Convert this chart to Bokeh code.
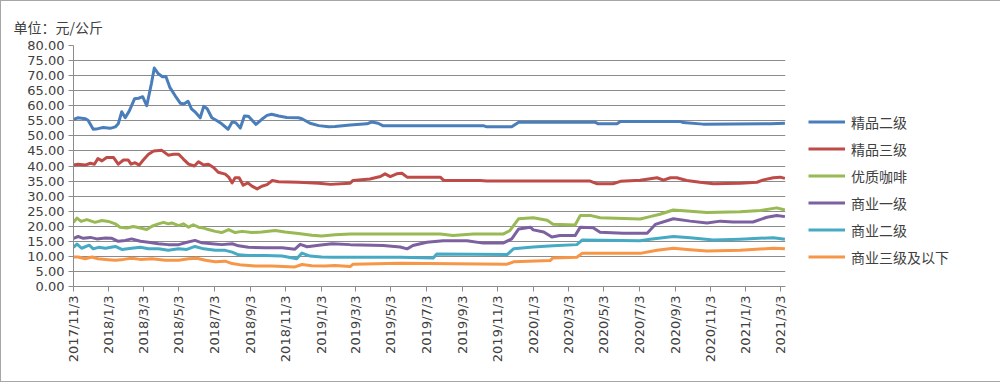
import pandas as pd
from bokeh.plotting import figure
from bokeh.models import Legend, LegendItem, FixedTicker, NumeralTickFormatter, Range1d
from bokeh.embed import file_html
from bokeh.resources import INLINE

start_date = "2017-11-03"
end_date = "2021-03-12"

series_names = ["精品二级", "精品三级", "优质咖啡", "商业一级", "商业二级", "商业三级及以下"]
series_colors = ["#4a7ebb", "#be4b48", "#98b954", "#7d60a0", "#46aac5", "#f79646"]

tick_labels = ["2017/11/3", "2018/1/3", "2018/3/3", "2018/5/3", "2018/7/3", "2018/9/3",
               "2018/11/3", "2019/1/3", "2019/3/3", "2019/5/3", "2019/7/3", "2019/9/3",
               "2019/11/3", "2020/1/3", "2020/3/3", "2020/5/3", "2020/7/3", "2020/9/3",
               "2020/11/3", "2021/1/3", "2021/3/3"]

# day offsets from start_date, and prices (元/公斤)
jp2_days = [0, 8, 20, 25, 34, 42, 51, 63, 72, 77, 83, 89, 96, 105, 112, 119, 126, 134, 139, 146,
            153, 159, 166, 175, 184, 190, 197, 203, 209, 218, 224, 230, 238, 247, 255, 266, 273, 279, 287, 294,
            301, 314, 324, 333, 341, 353, 367, 387, 393, 407, 422, 439, 450, 476, 505, 513, 524, 532, 705, 711,
            754, 766, 898, 903, 935, 941, 1044, 1049, 1083, 1200, 1224]
jp2_vals = [55.5, 56.0, 55.7, 55.2, 52.2, 52.4, 52.8, 52.5, 53.0, 54.0, 58.0, 56.0, 58.3, 62.3, 62.5, 63.0, 60.0, 67.3, 72.5, 70.6,
            69.6, 69.7, 66.0, 63.3, 60.8, 60.6, 61.5, 59.0, 58.0, 56.0, 59.8, 59.0, 56.0, 55.0, 54.0, 52.2, 54.6, 54.4, 52.6, 56.6,
            56.5, 53.8, 55.5, 56.8, 57.2, 56.6, 56.1, 56.0, 55.7, 54.2, 53.4, 53.0, 53.1, 53.6, 54.0, 54.6, 54.2, 53.4, 53.4, 53.0,
            53.0, 54.5, 54.5, 54.0, 54.0, 54.8, 54.8, 54.4, 53.9, 54.0, 54.2]

jp3_days = [0, 8, 20, 29, 36, 42, 49, 57, 69, 77, 86, 94, 99, 106, 113, 120, 129, 138, 152, 163,
            172, 181, 189, 198, 208, 215, 224, 232, 241, 249, 261, 267, 273, 278, 285, 292, 300, 307, 316, 324,
            333, 342, 353, 387, 422, 442, 476, 481, 510, 528, 536, 545, 556, 565, 574, 631, 637, 700, 711, 889,
            901, 928, 941, 975, 1004, 1015, 1027, 1038, 1055, 1078, 1101, 1147, 1176, 1187, 1204, 1216, 1224]
jp3_vals = [40.3, 40.6, 40.3, 40.9, 40.6, 42.5, 41.7, 42.8, 42.8, 40.6, 42.0, 42.0, 40.6, 41.1, 40.3, 42.0, 43.9, 45.0, 45.2, 43.6,
            43.9, 43.9, 42.3, 40.6, 40.0, 41.4, 40.3, 40.6, 39.5, 37.9, 37.3, 36.3, 34.4, 36.1, 36.1, 33.6, 34.4, 33.3, 32.4, 33.3,
            33.8, 35.2, 34.8, 34.6, 34.3, 33.9, 34.3, 35.2, 35.7, 36.5, 37.4, 36.5, 37.4, 37.6, 36.3, 36.3, 35.2, 35.2, 35.0, 35.0,
            34.1, 34.1, 34.9, 35.3, 36.1, 35.3, 36.1, 36.1, 35.2, 34.6, 34.1, 34.3, 34.6, 35.4, 36.1, 36.3, 35.9]

yz_days = [0, 6, 13, 23, 37, 49, 60, 72, 80, 92, 103, 115, 126, 135, 146, 155, 163, 169, 181, 189,
           198, 206, 215, 224, 232, 244, 255, 267, 278, 290, 307, 324, 347, 364, 387, 410, 427, 450, 476, 562,
           631, 653, 688, 739, 751, 766, 791, 815, 825, 863, 872, 889, 906, 975, 992, 1009, 1032, 1061, 1090, 1147,
           1182, 1210, 1224]
yz_vals = [21.3, 22.7, 21.6, 22.2, 21.3, 21.9, 21.6, 20.8, 19.7, 19.4, 19.9, 19.4, 18.9, 20.0, 20.8, 21.3, 20.8, 21.1, 20.2, 20.8,
           19.7, 20.5, 19.7, 19.4, 18.9, 18.3, 17.9, 18.9, 17.9, 18.3, 17.9, 18.1, 18.6, 18.1, 17.6, 17.0, 16.8, 17.2, 17.4, 17.4,
           17.4, 16.9, 17.4, 17.4, 18.6, 22.5, 22.8, 22.0, 20.7, 20.4, 23.6, 23.6, 22.8, 22.4, 23.2, 24.0, 25.4, 25.0, 24.6, 24.8,
           25.2, 26.1, 25.4]

sy1_days = [0, 8, 17, 29, 40, 55, 66, 77, 89, 100, 115, 129, 146, 163, 181, 192, 209, 221, 238, 255,
            273, 284, 301, 330, 359, 381, 390, 402, 422, 445, 476, 533, 562, 574, 584, 608, 636, 677, 705, 739,
            754, 766, 786, 791, 809, 823, 837, 863, 872, 894, 906, 946, 987, 1001, 1032, 1061, 1090, 1113, 1135, 1169,
            1193, 1210, 1224]
sy1_vals = [16.0, 16.6, 16.0, 16.3, 15.8, 16.1, 16.0, 15.0, 15.3, 15.8, 15.0, 14.7, 14.2, 13.9, 13.9, 14.5, 15.3, 14.5, 14.2, 13.9,
            14.2, 13.5, 13.0, 12.9, 12.9, 12.4, 14.0, 13.2, 13.7, 14.2, 13.9, 13.6, 13.1, 12.5, 13.6, 14.7, 15.2, 15.2, 14.4, 14.4,
            15.8, 19.1, 19.7, 18.8, 18.1, 16.4, 16.9, 16.9, 19.7, 19.5, 18.0, 17.7, 17.7, 20.6, 22.5, 21.7, 21.1, 21.7, 21.4, 21.4,
            23.0, 23.6, 23.2]

sy2_days = [0, 6, 14, 27, 34, 43, 55, 72, 83, 100, 115, 129, 146, 163, 181, 195, 209, 224, 244, 261,
            273, 284, 301, 330, 359, 384, 393, 407, 427, 447, 562, 619, 625, 746, 757, 791, 825, 866, 875, 975,
            992, 1032, 1061, 1101, 1147, 1204, 1224]
sy2_vals = [13.0, 14.1, 12.7, 13.7, 12.5, 13.0, 12.7, 13.3, 12.3, 12.7, 13.0, 12.5, 12.5, 12.0, 12.5, 12.3, 13.3, 12.5, 12.0, 12.0,
            11.4, 10.5, 10.3, 10.3, 10.1, 9.2, 11.1, 10.1, 9.8, 9.7, 9.7, 9.5, 10.8, 10.6, 12.5, 13.1, 13.5, 13.9, 15.4, 15.2,
            15.7, 16.6, 16.2, 15.4, 15.7, 16.2, 15.7]

sy3_days = [0, 8, 20, 32, 42, 60, 72, 86, 100, 115, 135, 158, 181, 198, 212, 227, 244, 261, 273, 290,
            313, 341, 381, 393, 410, 433, 450, 476, 481, 562, 746, 757, 820, 825, 866, 875, 975, 1004, 1032, 1061,
            1090, 1147, 1204, 1224]
sy3_vals = [9.8, 9.8, 9.2, 9.8, 9.2, 8.9, 8.7, 9.0, 9.4, 9.0, 9.2, 8.7, 8.7, 9.2, 9.4, 8.7, 8.2, 8.4, 7.6, 7.1,
            6.8, 6.8, 6.5, 7.3, 6.9, 6.8, 7.0, 6.6, 7.4, 7.7, 7.4, 8.2, 8.6, 9.5, 9.7, 11.0, 11.0, 12.0, 12.7, 12.2,
            11.8, 12.0, 12.7, 12.5]

all_days = [jp2_days, jp3_days, yz_days, sy1_days, sy2_days, sy3_days]
all_vals = [jp2_vals, jp3_vals, yz_vals, sy1_vals, sy2_vals, sy3_vals]

t0 = pd.Timestamp(start_date)


def ms(ts):
    return int(pd.Timestamp(ts).value // 1_000_000)


tick_ms = [ms(pd.to_datetime(t, format="%Y/%m/%d")) for t in tick_labels]

FONT = "DejaVu Sans"
CJK = "Noto Sans CJK SC"
TXT = "#404040"
GRAY = "#8c8c8c"

p = figure(frame_width=712, frame_height=241, x_axis_type="datetime", output_backend="svg", toolbar_location=None,
           x_range=Range1d(ms(start_date), ms(end_date)), y_range=Range1d(0, 80),
           min_border_left=72, min_border_right=214, min_border_top=44, min_border_bottom=95,
           title="单位：元/公斤", styles={"border": "1px solid #a6a6a6"})

p.title.align = "left"
p.title.offset = -60
p.title.standoff = 17
p.title.text_font = CJK
p.title.text_font_size = "14px"
p.title.text_font_style = "normal"
p.title.text_color = TXT

p.outline_line_color = None
p.xgrid.grid_line_color = None
p.ygrid.grid_line_color = GRAY
p.ygrid.grid_line_width = 1

p.yaxis.ticker = FixedTicker(ticks=list(range(0, 81, 5)))
p.yaxis.formatter = NumeralTickFormatter(format="0.00")
p.xaxis.ticker = FixedTicker(ticks=tick_ms)
p.xaxis.major_label_overrides = dict(zip(tick_ms, tick_labels))
p.xaxis.major_label_orientation = 3.14159265 / 2

for ax in (p.xaxis, p.yaxis):
    ax.axis_line_color = GRAY
    ax.major_tick_line_color = GRAY
    ax.major_tick_out = 5
    ax.major_tick_in = 0
    ax.minor_tick_line_color = None
    ax.major_label_text_font = FONT
    ax.major_label_text_font_size = "13px"
    ax.major_label_text_color = TXT
    ax.major_label_standoff = 4

items = []
for name, color, days, vals in zip(series_names, series_colors, all_days, all_vals):
    dates = t0 + pd.to_timedelta(days, unit="D")
    r = p.line(x=dates, y=vals, line_color=color, line_width=3, line_join="round")
    items.append(LegendItem(label=name, renderers=[r]))

legend = Legend(items=items, location=(23, 16), orientation="vertical", padding=0, margin=0, spacing=0,
                glyph_width=37, glyph_height=27, label_height=27, label_standoff=6,
                border_line_color=None, background_fill_alpha=0,
                label_text_font=CJK, label_text_font_size="14px", label_text_color=TXT)
p.add_layout(legend, "right")

open("out.html", "w").write(file_html(p, INLINE))
